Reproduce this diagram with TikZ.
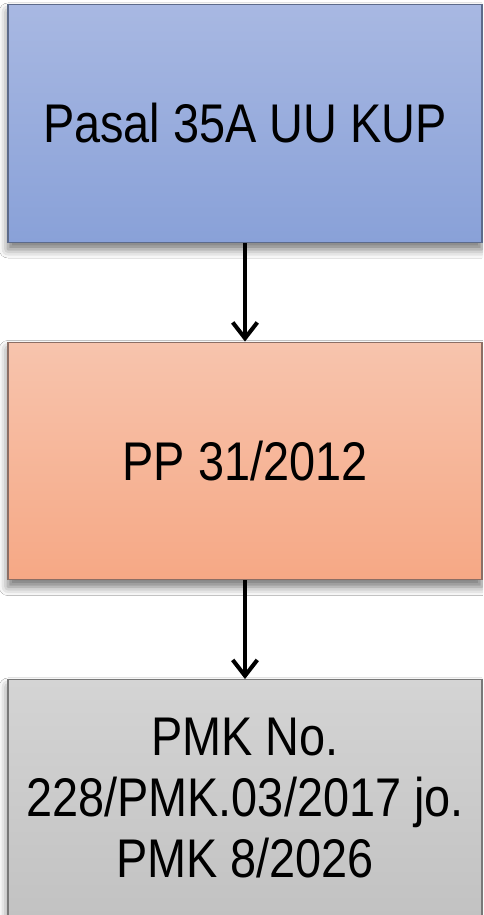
\documentclass[tikz,border=0pt]{standalone}
\usepackage{fontspec}
\usetikzlibrary{arrows.meta,shadows.blur}
\newfontfamily\boxfont[FakeStretch=0.86]{Liberation Sans}

\tikzset{
  lawbox/.style={draw, line width=0.8pt, minimum width=9.48cm, minimum height=4.75cm,
    inner sep=0pt, align=center, font=\boxfont\fontsize{31}{34.7}\selectfont,
    blur shadow={shadow xshift=0pt, shadow yshift=-4pt, shadow blur radius=5pt, shadow opacity=55}},
  flow/.style={line width=2.3pt, -{Straight Barb[length=9pt,width=14pt]}}
}

\definecolor{kuptop}{RGB}{168,184,226}
\definecolor{kupbot}{RGB}{137,161,216}
\definecolor{kupline}{RGB}{92,106,138}
\definecolor{pptop}{RGB}{247,196,173}
\definecolor{ppbot}{RGB}{246,168,133}
\definecolor{ppline}{RGB}{140,110,100}
\definecolor{pmktop}{RGB}{212,212,212}
\definecolor{pmkbot}{RGB}{194,194,194}
\definecolor{pmkline}{RGB}{120,120,120}

\begin{document}
\begin{tikzpicture}
  \useasboundingbox (0,0) rectangle (9.66,18.3);
  \clip (0,0) rectangle (9.66,18.3);
  \fill[white] (0,0) rectangle (9.66,18.3);
  % the three boxes
  \node[lawbox, top color=kuptop, bottom color=kupbot, draw=kupline] (kup) at (4.9,15.83) {Pasal 35A UU KUP};
  \node[lawbox, top color=pptop, bottom color=ppbot, draw=ppline] (pp) at (4.9,9.08) {PP 31/2012};
  \node[lawbox, top color=pmktop, bottom color=pmkbot, draw=pmkline] (pmk) at (4.9,2.33) {PMK No.\\228/PMK.03/2017 jo.\\PMK 8/2026};
  % arrows between them
  \draw[flow] (kup.south) -- (pp.north);
  \draw[flow] (pp.south) -- (pmk.north);
\end{tikzpicture}
\end{document}
